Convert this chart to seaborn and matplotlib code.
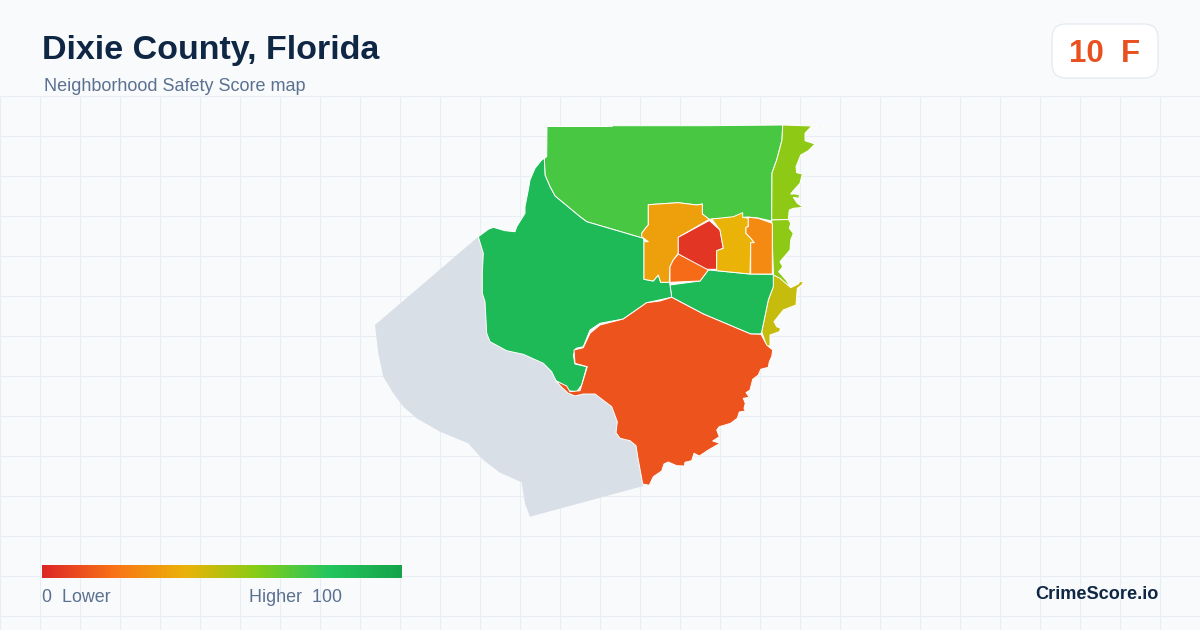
import numpy as np
import matplotlib
matplotlib.use("Agg")
import matplotlib.pyplot as plt
from matplotlib.colors import LinearSegmentedColormap
from matplotlib.patches import FancyBboxPatch
import seaborn as sns

# Map outlines, in map units
north_zone = [(547,126.5),(612,126.5),(612.5,125.7),(707,125.7),(782.7,125),(782,140),(776.7,160),(772,173),(771.7,221),(758,218),(748,217),(742.7,217.3),(711.7,219),(709,219.3),(702.3,214),(702.3,204),(697,205),(678,202.7),(648.3,204.7),(648.3,225),(646.7,226.7),(641.7,233.3),(643.3,238.3),(586.7,221.7),(580,216.7),(555,196),(550,186.7),(545,175),(544.3,158.3),(546.7,156.7)]
east_upper = [(782.7,125),(811.7,126),(805,133.3),(805,140.7),(815,144),(808.3,150.7),(800.7,155),(796,166.7),(796.7,172.7),(802.3,174),(800,183.3),(793.3,190.7),(790.7,194),(795,194),(799.3,194.7),(799,198.3),(793.3,197.3),(797.3,203.3),(803.3,207.3),(793.3,208.3),(789.3,210),(788.3,219.5),(771.7,220),(772,173),(776.7,160),(782,140)]
east_islet = [(818,125.6),(823,125.5),(824,126.5),(818,126.8)]
east_lower = [(771.7,220),(788.3,219.5),(790.7,223.3),(789.3,228.3),(793.3,233.3),(790.7,240),(790,250),(780,261.7),(782.7,266.7),(778.7,271.7),(786,280),(790.7,287.7),(773.5,275),(772.4,245)]
south_coast = [(773.3,275),(780,278.3),(790.7,287.7),(798.3,284),(800,281.3),(803.3,282),(801.7,285),(797.3,288.3),(796,305),(783.3,310),(774,321.7),(776.7,326.7),(780.7,328.3),(779.3,331.7),(770,335),(770,346),(766.7,346),(761.7,331.7),(768.3,300),(773.3,286.7)]
center_east = [(670,285),(700,281),(708.3,270),(716.7,270.7),(750,274),(773.3,274.3),(773.3,286.7),(768.3,300),(761.7,331.7),(760.7,334),(750.7,334),(703.3,314),(671.7,297.3)]
west_zone = [(544.3,158.3),(541.7,160),(535,168.3),(530,180),(528.3,190),(525,206.7),(525,213.3),(516.7,226.7),(515,231.7),(505,230.7),(493.3,227.3),(488.3,229.3),(478.3,236.7),(483.3,253.3),(482.3,273.3),(482.3,293.3),(485,301.7),(486.7,333.3),(490,341.7),(506.7,350.7),(523.3,354.3),(543.3,363.3),(551.7,371.7),(556,380.7),(561.7,384),(568.3,390.7),(576.7,391.7),(581.7,385),(586.7,366.7),(575,364),(573.3,355),(576,348.3),(583.3,346.7),(590,330),(600,323.3),(623.3,319),(646.7,302.7),(671.7,297.3),(670,285),(669.3,282.3),(660.7,282.3),(658.3,275),(653.3,281),(644,279.3),(644,241.7),(643.3,238.3),(586.7,221.7),(580,216.7),(555,196),(550,186.7),(545,175)]
amber_zone = [(648.3,204.7),(678,202.7),(697,205),(702.3,204),(702.3,214),(709.3,219.3),(678.3,237.3),(678.3,253.3),(673.3,260),(670,266.7),(669.3,282.3),(660.7,282.3),(658.3,275),(653.3,281),(644,279.3),(644,241.7),(648.3,241.7),(641.7,236.7),(641.7,233.3),(646.7,226.7),(648.3,225)]
red_zone = [(709.3,220.5),(720,230),(723.3,248.3),(716.7,250.7),(716.7,269.3),(703.3,269.3),(678.3,254),(678.3,237.3)]
small_orange = [(678.3,254),(708.3,270),(700,281),(670,282.3),(670,266.7),(673.3,260)]
yellow_zone = [(711.7,219),(733.3,216.7),(742.7,212.7),(742.7,217.3),(748.3,218.3),(748.3,226.7),(746,227.3),(746,233.3),(751.7,239.3),(754.3,242.7),(750.7,242.7),(750,274),(716.7,270.7),(716.7,250.7),(723.3,248.3),(720,230)]
east_orange = [(748.3,217.3),(758.3,218.3),(772.3,223.3),(772.3,274),(750.7,274),(750.7,242.7),(754.3,242.7),(751.7,239.3),(746,233.3),(746,227.3),(748.3,226.7)]
south_zone = [(671.7,297.3),(703.3,314),(750.7,334),(761,334.3),(766.7,345),(772.7,350),(771.7,356.7),(769.3,361.7),(768.3,367.3),(760.7,369.3),(758.3,375),(752.7,379.3),(750,390),(746,392.7),(749.3,397.3),(743.3,398.3),(745.3,403.3),(744,408.3),(745.3,411),(739.3,412),(737.3,418.3),(730.7,423.3),(719.3,426.7),(716.7,430),(719.3,436.7),(712.7,441),(720,443.3),(708.3,450),(699.3,456),(694,453.3),(691.7,460.7),(685,462.3),(684.3,466),(676.7,465.7),(668.3,462),(664,464),(661.7,471),(653.3,476.7),(649.3,485.3),(642.7,484),(637.7,456.7),(636,445.7),(630,440.7),(620,438.3),(616,432.7),(617.3,421.7),(611.7,406.7),(595,394),(583.3,394),(575,396),(568.3,393.3),(561.7,387.3),(556,381),(566.7,386),(570,391.7),(580,390.7),(582.3,383.3),(587.3,366.7),(575,363.3),(574,350),(583.3,347.7),(590,333.3),(600,325),(623.3,319),(646.7,302.7),(660,301)]
no_data_zone = [(478.3,236.7),(375,325),(378.3,353.3),(383.3,376.7),(393.3,393.3),(403.3,406.7),(416.7,418.3),(440,431.7),(468.3,443.3),(483.3,460),(500,472.7),(521.7,482.3),(525,503.3),(530,516.7),(643.3,486),(637.7,456.7),(636,445.7),(630,440.7),(620,438.3),(616,432.7),(617.3,421.7),(611.7,406.7),(595,394),(583.3,394),(575,396),(568.3,393.3),(561.7,387.3),(556,381),(551.7,371.7),(543.3,363.3),(523.3,354.3),(506.7,350.7),(490,341.7),(486.7,333.3),(485,301.7),(482.3,293.3),(482.3,273.3),(483.3,253.3)]

# Zones with their safety score
zones = [north_zone, east_upper, east_islet, east_lower, south_coast, center_east, west_zone,
         amber_zone, red_zone, small_orange, yellow_zone, east_orange, south_zone]
scores = [72, 58, 58, 58, 47, 86, 86, 34, 4, 18, 40, 27, 12]

# Colour ramp
ramp_colors = ["#dc2626", "#f97316", "#eab308", "#84cc16", "#22c55e", "#16a34a"]
title = "Dixie County, Florida"
subtitle = "Neighborhood Safety Score map"
badge_score = "10"
badge_grade = "F"
brand = "CrimeScore.io"
ramp_labels = ["0  Lower", "Higher  100"]

W, H = 1200, 630
BG = "#f8fafc"
sns.set_theme(style="white", rc={"figure.facecolor": BG, "axes.facecolor": BG})
plt.rcParams["font.family"] = ["Liberation Sans", "DejaVu Sans"]

fig = plt.figure(figsize=(12, 6.3), dpi=100)
ax = fig.add_axes([0, 0, 1, 1])
ax.set_xlim(0, W)
ax.set_ylim(H, 0)
ax.axis("off")

# Background grid
ax.vlines(np.arange(0, W, 40) - 0.5, 96, H, color="#e8eef3", lw=0.8, zorder=1)
ax.hlines(np.arange(96, H, 40) - 0.5, 0, W, color="#e8eef3", lw=0.8, zorder=1)

cmap = LinearSegmentedColormap.from_list("safety", ramp_colors)

xs, ys = zip(*no_data_zone)
ax.fill(xs, ys, facecolor="#d8dfe7", edgecolor="none", zorder=2)
for poly, score in zip(zones, scores):
    xs, ys = zip(*poly)
    ax.fill(xs, ys, facecolor=cmap(score / 100), edgecolor="white", lw=0.7, zorder=3, joinstyle="round")

# Title block
ax.text(42, 59, title, fontsize=24.48, fontweight="bold", color="#0f2744", va="baseline", ha="left")
ax.text(44, 91, subtitle, fontsize=12.95, color="#5b7190", va="baseline", ha="left")

# Score badge
ax.add_patch(FancyBboxPatch((1064, 36), 82, 30, boxstyle="round,pad=12,rounding_size=14",
                            facecolor="white", edgecolor="#e2e8f0", lw=0.8, zorder=4))
ax.text(1105, 62, f"{badge_score}  {badge_grade}", fontsize=22.5, fontweight="bold",
        color="#e8501f", ha="center", va="baseline", zorder=5)

# Colour ramp legend
cax = fig.add_axes([42 / W, 1 - 578 / H, 360 / W, 13 / H])
sns.heatmap(np.linspace(0, 1, 360).reshape(1, -1), ax=cax, cmap=cmap, vmin=0, vmax=1,
            cbar=False, xticklabels=False, yticklabels=False)
ax.text(42, 602, ramp_labels[0], fontsize=12.85, color="#5b7190", va="baseline", ha="left")
ax.text(249, 602, ramp_labels[1], fontsize=12.85, color="#5b7190", va="baseline", ha="left")

ax.text(1158.5, 599, brand, fontsize=13.05, fontweight="bold", color="#0f2744", va="baseline", ha="right")

fig.savefig("out.png", dpi=100, facecolor=BG)
